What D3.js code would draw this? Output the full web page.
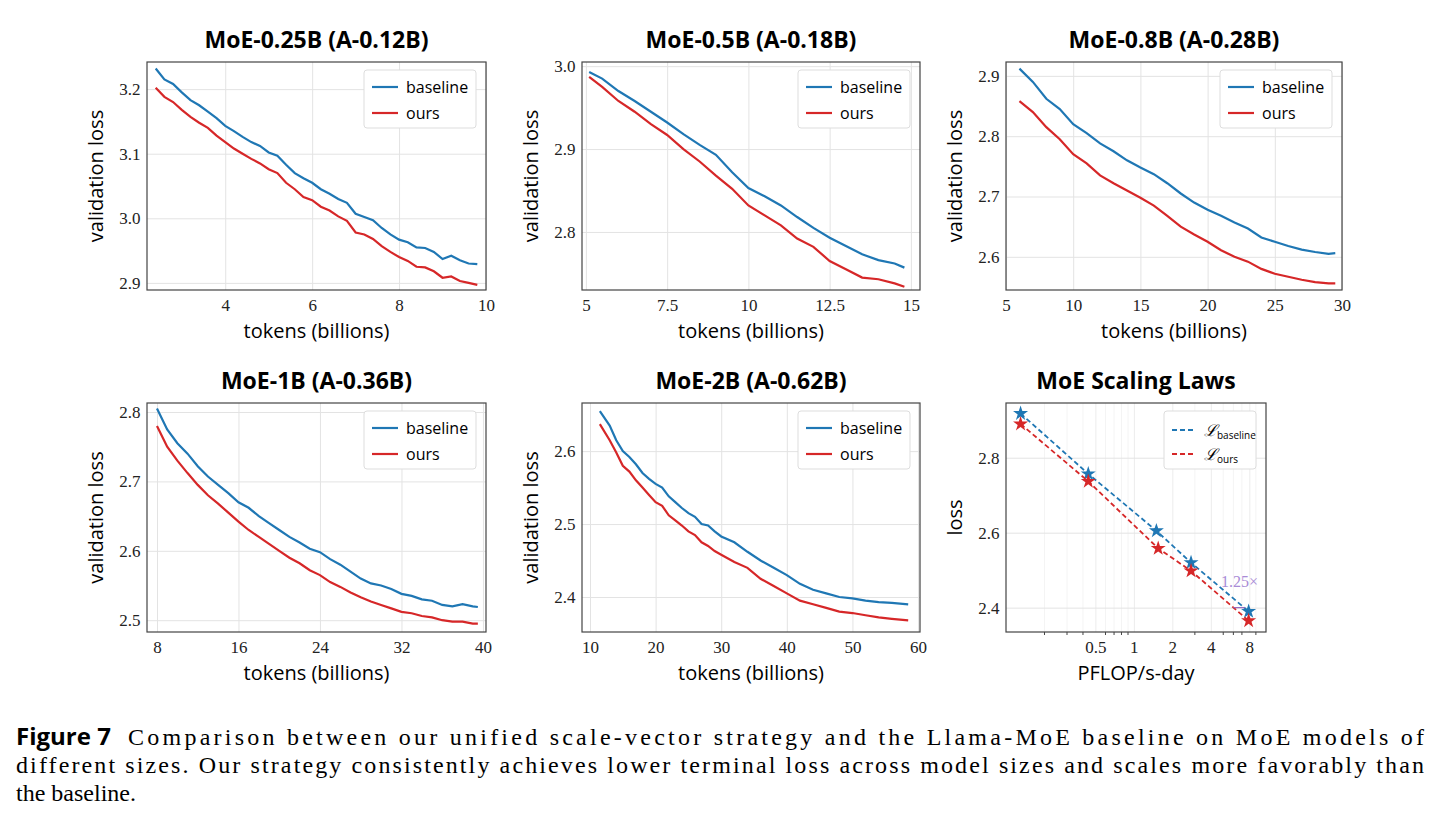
<!DOCTYPE html>
<html><head><meta charset="utf-8">
<script src="https://cdn.jsdelivr.net/npm/d3@7"></script>
<style>
body{margin:0;background:#fff;}
.tick text{font-family:"Liberation Serif",serif;font-size:17px;fill:#222;}
</style></head>
<body><svg id="fig" width="1442" height="833"></svg>
<script>
// data per panel
const x1 = [2.4,2.6,2.8,3.0,3.2,3.4,3.6,3.8,4.0,4.2,4.4,4.6,4.8,5.0,5.2,5.4,5.6,5.8,6.0,6.2,6.4,6.6,6.8,7.0,7.2,7.4,7.6,7.8,8.0,8.2,8.4,8.6,8.8,9.0,9.2,9.4,9.6,9.8];
const base1 = [3.232,3.215,3.208,3.195,3.183,3.175,3.165,3.155,3.143,3.135,3.126,3.118,3.112,3.102,3.097,3.083,3.070,3.062,3.055,3.045,3.038,3.030,3.024,3.007,3.002,2.997,2.985,2.975,2.967,2.963,2.955,2.954,2.948,2.937,2.942,2.935,2.930,2.929];
const ours1 = [3.202,3.188,3.180,3.168,3.157,3.148,3.140,3.128,3.118,3.108,3.100,3.092,3.085,3.076,3.070,3.055,3.045,3.033,3.028,3.018,3.012,3.003,2.996,2.978,2.975,2.968,2.957,2.948,2.940,2.934,2.925,2.924,2.918,2.908,2.910,2.903,2.900,2.897];

const x2 = [5.1,5.5,6.0,6.5,7.0,7.5,8.0,8.5,9.0,9.5,10.0,10.5,11.0,11.5,12.0,12.5,13.0,13.5,14.0,14.5,14.8];
const base2 = [2.993,2.985,2.970,2.958,2.945,2.932,2.918,2.905,2.893,2.872,2.853,2.843,2.832,2.818,2.805,2.793,2.783,2.773,2.766,2.762,2.757];
const ours2 = [2.987,2.975,2.958,2.945,2.930,2.917,2.900,2.885,2.868,2.852,2.832,2.820,2.808,2.792,2.782,2.765,2.755,2.745,2.743,2.738,2.734];

const x3 = [6,7,8,9,10,11,12,13,14,15,16,17,18,19,20,21,22,23,24,25,26,27,28,29,29.5];
const base3 = [2.912,2.890,2.862,2.845,2.820,2.805,2.788,2.775,2.760,2.748,2.737,2.722,2.705,2.690,2.678,2.668,2.657,2.647,2.632,2.625,2.618,2.612,2.608,2.605,2.606];
const ours3 = [2.858,2.840,2.815,2.795,2.770,2.755,2.735,2.722,2.710,2.698,2.685,2.668,2.650,2.637,2.625,2.611,2.600,2.592,2.580,2.572,2.567,2.562,2.558,2.556,2.556];

const x4 = [8,9,10,11,12,13,14,15,16,17,18,19,20,21,22,23,24,25,26,27,28,29,30,31,32,33,34,35,36,37,38,39,39.5];
const base4 = [2.805,2.775,2.755,2.740,2.722,2.707,2.695,2.683,2.670,2.662,2.650,2.640,2.630,2.620,2.612,2.603,2.598,2.588,2.580,2.570,2.560,2.553,2.550,2.545,2.538,2.535,2.530,2.528,2.522,2.520,2.523,2.520,2.519];
const ours4 = [2.780,2.750,2.730,2.712,2.695,2.680,2.668,2.655,2.642,2.630,2.620,2.610,2.600,2.590,2.582,2.572,2.565,2.555,2.548,2.540,2.533,2.527,2.522,2.517,2.512,2.510,2.506,2.504,2.500,2.498,2.498,2.495,2.495];

const x5 = [11.5,13,14,15,16,17,18,19,20,21,22,23,24,25,26,27,28,29,30,32,34,36,38,40,42,44,46,48,50,52,54,56,58.5];
const base5 = [2.655,2.635,2.615,2.600,2.592,2.582,2.570,2.562,2.555,2.550,2.538,2.530,2.522,2.515,2.510,2.500,2.498,2.490,2.483,2.475,2.462,2.450,2.440,2.430,2.418,2.410,2.405,2.400,2.398,2.395,2.393,2.392,2.390];
const ours5 = [2.637,2.615,2.598,2.580,2.572,2.560,2.550,2.540,2.530,2.525,2.512,2.505,2.498,2.490,2.485,2.475,2.470,2.463,2.458,2.448,2.440,2.425,2.415,2.405,2.395,2.390,2.385,2.380,2.378,2.375,2.372,2.370,2.368];

const flopBase = [0.13,0.44,1.5,2.8,7.9];
const lossBase = [2.918,2.757,2.605,2.52,2.39];
const flopOurs = [0.13,0.44,1.55,2.8,7.9];
const lossOurs = [2.89,2.737,2.558,2.498,2.365];

const titles = ["MoE-0.25B (A-0.12B)","MoE-0.5B (A-0.18B)","MoE-0.8B (A-0.28B)","MoE-1B (A-0.36B)","MoE-2B (A-0.62B)"];

const BLUE = "#1f77b4", RED = "#d62728";
const svg = d3.select('#fig');

const panels = [
  {x:x1,b:base1,o:ours1,l:147,r:486,t:62,bt:290,xd:[2.2,10],yd:[2.889,3.242],xt:[4,6,8,10],yt:[2.9,3.0,3.1,3.2],yf:".1f"},
  {x:x2,b:base2,o:ours2,l:582,r:920,t:62,bt:290,xd:[4.88,15.28],yd:[2.73,3.005],xt:[5,7.5,10,12.5,15],yt:[2.8,2.9,3.0],yf:".1f"},
  {x:x3,b:base3,o:ours3,l:1006,r:1342,t:62,bt:290,xd:[5,30],yd:[2.545,2.923],xt:[5,10,15,20,25,30],yt:[2.6,2.7,2.8,2.9],yf:".1f"},
  {x:x4,b:base4,o:ours4,l:147,r:486,t:403,bt:632,xd:[7.02,40.3],yd:[2.483,2.813],xt:[8,16,24,32,40],yt:[2.5,2.6,2.7,2.8],yf:".1f"},
  {x:x5,b:base5,o:ours5,l:582,r:920,t:403,bt:632,xd:[8.78,60.3],yd:[2.352,2.666],xt:[10,20,30,40,50,60],yt:[2.4,2.5,2.6],yf:".1f"}
];

function frame(p, xs, ys, xlab, ylab, title) {
  const g = svg.append('g');
  g.append('g').attr('transform', `translate(0,${p.bt})`)
    .call(d3.axisBottom(xs).tickValues(p.xt).tickSize(-(p.bt - p.t)).tickFormat(p.xf || (d => String(d))))
    .call(a => a.selectAll('.tick line').attr('stroke', '#e3e3e3'))
    .call(a => a.select('.domain').remove())
    .call(a => a.selectAll('.tick text').attr('dy', '1.05em'));
  g.append('g').attr('transform', `translate(${p.l},0)`)
    .call(d3.axisLeft(ys).tickValues(p.yt).tickSize(-(p.r - p.l)).tickFormat(d3.format(p.yf)))
    .call(a => a.selectAll('.tick line').attr('stroke', '#e3e3e3'))
    .call(a => a.select('.domain').remove())
    .call(a => a.selectAll('.tick text').attr('dx', '-0.2em'));
  g.append('text').attr('x', (p.l + p.r) / 2).attr('y', p.t - 14).attr('text-anchor', 'middle')
    .style('font-family', 'Open Sans').style('font-weight', 'bold').style('font-size', '23px').text(title);
  g.append('text').attr('x', (p.l + p.r) / 2).attr('y', p.bt + 48).attr('text-anchor', 'middle')
    .style('font-family', 'Open Sans').style('font-size', '20px').text(xlab);
  g.append('text').attr('transform', `translate(${p.l - 44},${(p.t + p.bt) / 2}) rotate(-90)`).attr('text-anchor', 'middle')
    .style('font-family', 'Open Sans').style('font-size', '20px').text(ylab);
  return g;
}

function border(g, p) {
  g.append('rect').attr('x', p.l).attr('y', p.t).attr('width', p.r - p.l).attr('height', p.bt - p.t)
    .attr('fill', 'none').attr('stroke', '#444').attr('stroke-width', 1.2);
}

panels.forEach((p, i) => {
  const xs = d3.scaleLinear().domain(p.xd).range([p.l, p.r]);
  const ys = d3.scaleLinear().domain(p.yd).range([p.bt, p.t]);
  const g = frame(p, xs, ys, 'tokens (billions)', 'validation loss', titles[i]);
  const line = d3.line().x((d, j) => xs(p.x[j])).y(d => ys(d));
  g.append('path').datum(p.b).attr('d', line).attr('fill', 'none').attr('stroke', BLUE).attr('stroke-width', 2.2);
  g.append('path').datum(p.o).attr('d', line).attr('fill', 'none').attr('stroke', RED).attr('stroke-width', 2.2);
  border(g, p);
  // legend
  const lg = g.append('g').attr('transform', `translate(${p.r - 122},${p.t + 8})`);
  lg.append('rect').attr('width', 112).attr('height', 58).attr('rx', 3).attr('fill', '#fff').attr('stroke', '#ddd');
  [['baseline', BLUE], ['ours', RED]].forEach(([t, c], k) => {
    lg.append('line').attr('x1', 8).attr('x2', 34).attr('y1', 17 + k * 26).attr('y2', 17 + k * 26).attr('stroke', c).attr('stroke-width', 2.2);
    lg.append('text').attr('x', 42).attr('y', 23 + k * 26).style('font-family', 'Open Sans').style('font-size', '16px').text(t);
  });
});

// scaling law panel
const p6 = {l:1006,r:1266,t:403,bt:632,xt:[0.5,1,2,4,8],yt:[2.4,2.6,2.8],yf:".1f",xf:d => String(d)};
const xs6 = d3.scaleLog().domain([0.1,10.8]).range([p6.l, p6.r]);
const ys6 = d3.scaleLinear().domain([2.335,2.946]).range([p6.bt, p6.t]);
const g6 = frame(p6, xs6, ys6, 'PFLOP/s-day', 'loss', 'MoE Scaling Laws');
g6.select('g').selectAll('.tick line').attr('stroke', '#ececec');
// minor log grid
const minors = [0.2,0.3,0.4,0.6,0.7,0.8,0.9,3,5,6,7,9];
g6.insert('g', ':first-child').selectAll('line').data(minors).enter().append('line')
  .attr('x1', d => xs6(d)).attr('x2', d => xs6(d)).attr('y1', p6.t).attr('y2', p6.bt).attr('stroke', '#f4f4f4');
g6.append('g').selectAll('line').data(minors).enter().append('line')
  .attr('x1', d => xs6(d)).attr('x2', d => xs6(d)).attr('y1', p6.bt).attr('y2', p6.bt + 3).attr('stroke', '#444');
const star = d3.symbol().type(d3.symbolStar).size(70);
[[flopBase, lossBase, BLUE], [flopOurs, lossOurs, RED]].forEach(([fx, fy, c]) => {
  const ln = d3.line().x((d, j) => xs6(fx[j])).y(d => ys6(d));
  g6.append('path').datum(fy).attr('d', ln).attr('fill', 'none').attr('stroke', c).attr('stroke-width', 1.8).attr('stroke-dasharray', '5,3');
  g6.selectAll(null).data(fy).enter().append('path').attr('d', star)
    .attr('transform', (d, j) => `translate(${xs6(fx[j])},${ys6(d)})`).attr('fill', c);
});
g6.append('line').attr('x1', xs6(6)).attr('x2', xs6(7.4)).attr('y1', ys6(2.40)).attr('y2', ys6(2.40)).attr('stroke', '#9467bd').attr('stroke-width', 1.2);
g6.append('text').attr('x', xs6(4.8)).attr('y', ys6(2.455)).style('font-family', 'Liberation Serif').style('font-size', '16px')
  .attr('fill', '#a98bd6').text('1.25×');
border(g6, p6);
const lg6 = g6.append('g').attr('transform', `translate(${p6.r - 102},${p6.t + 8})`);
lg6.append('rect').attr('width', 92).attr('height', 58).attr('rx', 3).attr('fill', '#fff').attr('stroke', '#ddd');
[['baseline', BLUE], ['ours', RED]].forEach(([t, c], k) => {
  lg6.append('line').attr('x1', 8).attr('x2', 32).attr('y1', 19 + k * 24).attr('y2', 19 + k * 24).attr('stroke', c).attr('stroke-width', 1.8).attr('stroke-dasharray', '5,3');
  const tx = lg6.append('text').attr('x', 40).attr('y', 25 + k * 24).style('font-family', 'Liberation Serif').style('font-size', '16px');
  tx.append('tspan').style('font-style', 'italic').text('ℒ');
  tx.append('tspan').attr('dy', 3).style('font-family', 'Open Sans').style('font-size', '10px').text(t);
});

// caption
const cap = svg.append('g').style('font-family', 'Liberation Serif').style('font-size', '24px');
const c1 = cap.append('text').attr('x', 16).attr('y', 745);
c1.append('tspan').style('font-family', 'Open Sans').style('font-weight', 'bold').text('Figure 7');
c1.append('tspan').attr('x', 128).attr('textLength', 1296).attr('lengthAdjust', 'spacing')
  .text('Comparison between our unified scale-vector strategy and the Llama-MoE baseline on MoE models of');
cap.append('text').attr('x', 16).attr('y', 773).attr('textLength', 1408).attr('lengthAdjust', 'spacing')
  .text('different sizes. Our strategy consistently achieves lower terminal loss across model sizes and scales more favorably than');
cap.append('text').attr('x', 16).attr('y', 801).text('the baseline.');
</script></body></html>
